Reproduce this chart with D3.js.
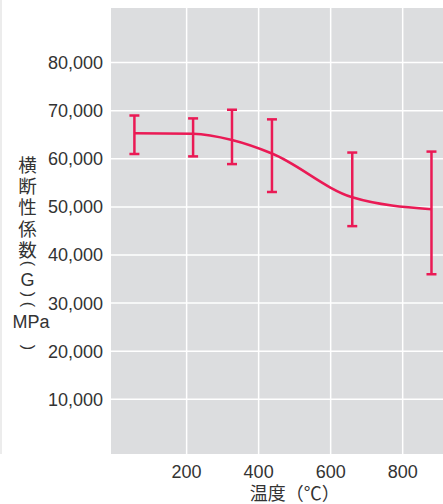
<!DOCTYPE html>
<html><head><meta charset="utf-8">
<script src="https://cdn.jsdelivr.net/npm/d3@7"></script>
<style>body{margin:0;background:#fff}svg{display:block}</style>
</head><body>
<script>
const temps = [55, 218, 326, 437, 660, 880];
const meanG = [65300, 65200, 63900, 61100, 52000, 49500];
const lowG  = [61000, 60500, 58900, 53100, 46000, 36000];
const highG = [69000, 68400, 70200, 68200, 61300, 61500];
const yTicks = [10000, 20000, 30000, 40000, 50000, 60000, 70000, 80000];
const xTicks = [200, 400, 600, 800];
const yTitle = ["横","断","性","係","数","(","G",")","(","MPa",")"];
const xTitle = "温度（℃）";

const W = 443, H = 504;
const m = {left:111, right:443, top:8, bottom:454};
const svg = d3.select("body").append("svg").attr("width", W).attr("height", H);
const x = d3.scaleLinear().domain([-10, 912]).range([m.left, m.right]);
const y = d3.scaleLinear().domain([-1370, 91350]).range([m.bottom, m.top]);

svg.append("line").attr("x1",1).attr("x2",1).attr("y1",0).attr("y2",m.bottom)
  .attr("stroke","#ececec").attr("stroke-width",2);

svg.append("rect").attr("x",m.left).attr("y",m.top).attr("width",m.right-m.left).attr("height",m.bottom-m.top).attr("fill","#dcdddf");

const g = svg.append("g");
g.selectAll(".gy").data(yTicks).join("line")
  .attr("x1",m.left).attr("x2",m.right).attr("y1",d=>y(d)).attr("y2",d=>y(d))
  .attr("stroke","#fff").attr("stroke-width",1.5);
g.selectAll(".gx").data(xTicks).join("line")
  .attr("y1",m.top).attr("y2",m.bottom).attr("x1",d=>x(d)).attr("x2",d=>x(d))
  .attr("stroke","#fff").attr("stroke-width",1.5);

const font = "'Liberation Sans', Arial, sans-serif";
const cjk = "'Noto Sans CJK JP', sans-serif";
const fmt = d3.format(",");

svg.selectAll(".yl").data(yTicks).join("text")
  .attr("x",103).attr("y",d=>y(d)).attr("dy","0.36em").attr("text-anchor","end")
  .attr("font-family",font).attr("font-size",18).attr("fill","#333").text(d=>fmt(d));
svg.selectAll(".xl").data(xTicks).join("text")
  .attr("x",d=>x(d)).attr("y",478).attr("text-anchor","middle")
  .attr("font-family",font).attr("font-size",18).attr("fill","#333").text(d=>d);

svg.append("text").attr("x",x(500)).attr("y",500).attr("text-anchor","middle")
  .attr("font-family",cjk).attr("font-size",18).attr("fill","#333").text(xTitle);

const ycen = [164,185,206,227.5,248.5,263.5,279.5,294.5,304.5,321.5,347.5];
const isParen = d => d==="(" || d===")";
svg.selectAll(".yt").data(yTitle).join("text")
  .attr("x",d=>d==="MPa"?31:27.5).attr("y",(d,i)=>ycen[i])
  .attr("text-anchor","middle").attr("dominant-baseline","central")
  .attr("transform",(d,i)=> isParen(d) ? `rotate(90,27.5,${ycen[i]})` : null)
  .attr("dy",d=>isParen(d)?"-0.05em":(d==="G"||d==="MPa")?"0.02em":"0")
  .attr("font-family",(d)=> (/^[A-Za-z()]+$/.test(d))?font:cjk)
  .attr("font-size",(d)=> isParen(d)?16:(d==="G"||d==="MPa")?18:18.5)
  .attr("fill","#333").text(d=>d);

const col = "#ea1a55";
const pts = temps.map((t,i)=>({t, m:meanG[i], lo:lowG[i], hi:highG[i]}));
svg.append("path").datum(pts)
  .attr("d", d3.line().x(d=>x(d.t)).y(d=>y(d.m)).curve(d3.curveMonotoneX))
  .attr("fill","none").attr("stroke",col).attr("stroke-width",2.5);
const eb = svg.append("g").attr("stroke",col).attr("stroke-width",2.5);
eb.selectAll(".v").data(pts).join("line")
  .attr("x1",d=>x(d.t)).attr("x2",d=>x(d.t)).attr("y1",d=>y(d.lo)).attr("y2",d=>y(d.hi));
eb.selectAll(".ct").data(pts).join("line")
  .attr("x1",d=>x(d.t)-5).attr("x2",d=>x(d.t)+5).attr("y1",d=>y(d.hi)).attr("y2",d=>y(d.hi));
eb.selectAll(".cb").data(pts).join("line")
  .attr("x1",d=>x(d.t)-5).attr("x2",d=>x(d.t)+5).attr("y1",d=>y(d.lo)).attr("y2",d=>y(d.lo));
</script>
</body></html>
